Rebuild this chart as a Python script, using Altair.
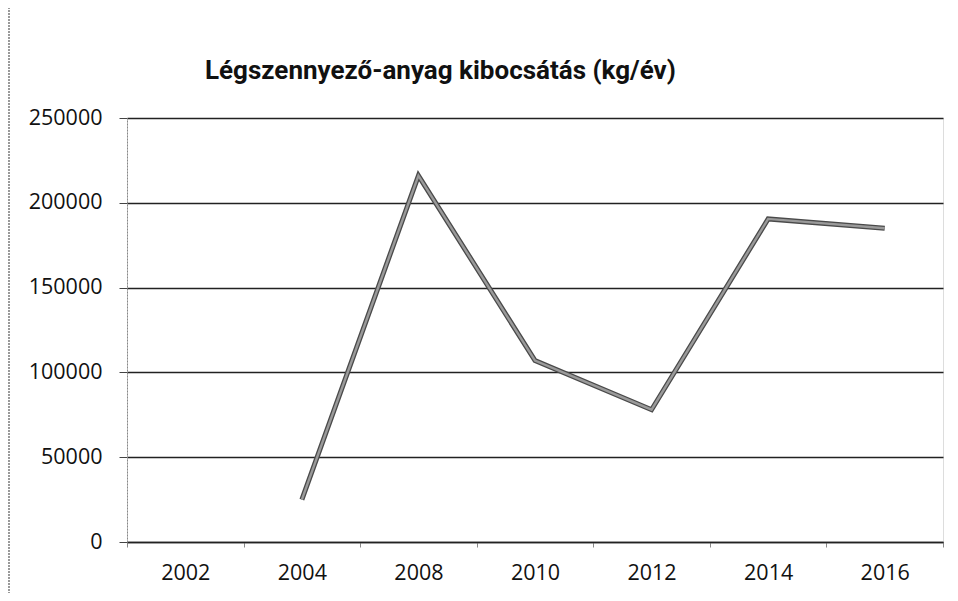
import altair as alt
import pandas as pd

years = ["2002", "2004", "2008", "2010", "2012", "2014", "2016"]
emissions = [None, 25000, 216000, 107000, 78000, 190500, 185000]
y_ticks = [0, 50000, 100000, 150000, 200000, 250000]

df = pd.DataFrame({"year": years, "value": emissions})

FONT = "Open Sans"
TITLE_FONT = "Roboto"

x_enc = alt.X(
    "year:N",
    sort=years,
    scale=alt.Scale(type="band", domain=years, paddingInner=0, paddingOuter=0),
    axis=alt.Axis(
        title=None,
        labelAngle=0,
        labelFont=FONT,
        labelFontSize=21.5,
        labelColor="#111",
        labelPadding=15,
        tickBand="extent",
        tickSize=5,
        tickColor="#888",
        domainColor="#222",
        domainWidth=1.5,
        grid=False,
    ),
)
y_enc = alt.Y(
    "value:Q",
    scale=alt.Scale(domain=[0, 250000], nice=False),
    axis=alt.Axis(
        title=None,
        values=y_ticks,
        format="d",
        labelFont=FONT,
        labelFontSize=21.5,
        labelColor="#111",
        labelPadding=17,
        tickSize=8,
        tickColor="#444",
        domainColor="#888",
        domainDash=[2, 1],
        grid=True,
        gridColor="#222",
        gridWidth=1.4,
    ),
)

outline = alt.Chart(df).mark_line(color="#4a4a4a", strokeWidth=5).encode(x=x_enc, y=y_enc)
inner = alt.Chart(df).mark_line(color="#9a9a9a", strokeWidth=2.4).encode(x=x_enc, y=y_enc)

border = alt.Chart(df).mark_rect(
    fill=None, stroke="#999", strokeWidth=1, strokeDash=[2, 1]
).encode(
    x=alt.value(-118), x2=alt.value(828), y=alt.value(-113), y2=alt.value(500)
)

chart = alt.layer(border, outline, inner).properties(
    width=816,
    height=424,
    padding={"left": 119, "top": 110, "right": 7, "bottom": 51},
    autosize=alt.AutoSizeParams(type="none"),
    title=alt.TitleParams(
        "Légszennyező-anyag kibocsátás (kg/év)",
        font=TITLE_FONT,
        fontSize=26,
        fontWeight="bold",
        color="#111",
        anchor="start",
        frame="group",
        dx=78,
        baseline="alphabetic",
        offset=-100,
    ),
).configure_view(stroke=None).configure(background="white")

chart.save("out.html", embed_options={"renderer": "svg", "actions": False})
